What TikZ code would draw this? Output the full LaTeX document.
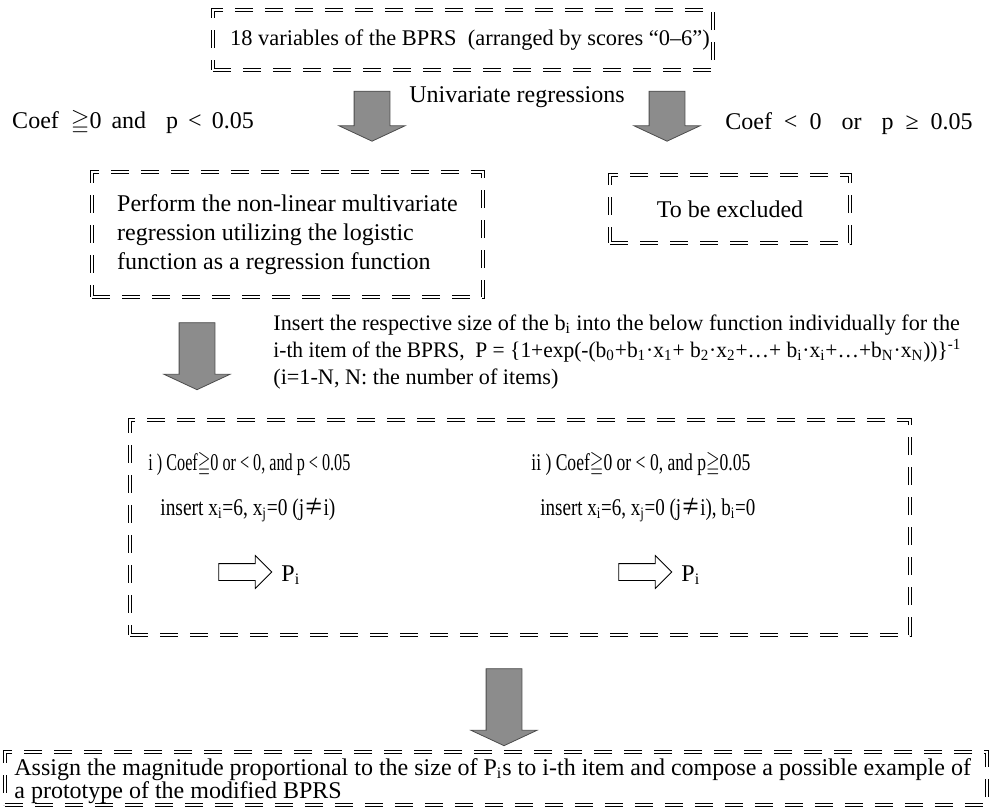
\documentclass[tikz,border=0pt]{standalone}
\usepackage{amssymb}
\usepackage{graphicx}
\usepackage{fontspec}
\setmainfont{Liberation Serif}
\newfontfamily\cjk{Noto Sans CJK JP}
\usepackage{xcolor}
\usepackage{tikz}
\usetikzlibrary{shapes.arrows}

\newcommand{\lo}[1]{\textsubscript{#1}}
\newcommand{\geqqsym}{$\geqq$}
\newcommand{\neqsym}{{\cjk ≠}}
\newcommand{\fitw}[2]{\resizebox{#1}{\height}{#2}}

\tikzset{
    dashbox/.style={
        draw,
        double,
        double distance=1.4pt,
        line width=0.45pt,
        dash pattern=on 9pt off 6pt,
        inner sep=0pt
    },
    downarrow/.style={
        single arrow,
        draw=black!70,
        fill=black!45,
        shape border rotate=270,
        inner sep=8.75pt,
        single arrow head extend=7.5pt,
        single arrow tip angle=130,
        minimum width=32.5pt
    },
    openarrow/.style={
        single arrow,
        draw,
        fill=white,
        inner sep=4pt,
        single arrow head extend=4pt,
        single arrow tip angle=90,
        minimum width=16pt,
        minimum height=26.5pt
    },
    txt/.style={
        inner sep=0pt,
        anchor=west
    }
}

\begin{document}
\begin{tikzpicture}[x=0.5pt,y=-0.5pt,font=\fontsize{12}{14.4}\selectfont]
\useasboundingbox (0,0) rectangle (989,809);

\node[
    dashbox,
    minimum width=250pt,
    minimum height=30pt,
    font=\fontsize{11.2}{13}\selectfont
] (vars) at (463,40) {\hspace*{7pt}18 variables of the BPRS\ \ (arranged by scores “0–6”)};

\node[downarrow, minimum height=25pt] (adopt) at (372,112) {};
\node[downarrow, minimum height=25pt] (drop) at (667,112) {};
\node (uni) at (517,97) {Univariate regressions};
\node (keep) at (133,122) {Coef\hspace{6pt}\geqqsym0\hspace{5pt}and\hspace{10pt}p\hspace{5pt}<\hspace{5pt}0.05};
\node (excl) at (849,124) {Coef\hspace{6pt}<\hspace{6pt}0\hspace{10pt}or\hspace{10pt}p\hspace{6pt}≥\hspace{6pt}0.05};

\node[
    dashbox,
    minimum width=195.5pt,
    minimum height=62.5pt,
    align=left
] (logit) at (287.5,234.5) {Perform the non-linear multivariate\\regression utilizing the logistic\\function as a regression function};

\node[
    dashbox,
    minimum width=120pt,
    minimum height=34pt
] (excluded) at (730,209) {To be excluded};

\node[downarrow, minimum height=33.5pt] (insert) at (197,352) {};
\node[
    txt,
    align=left,
    font=\fontsize{11.1}{13.5}\selectfont
] (func) at (273,352) {Insert the respective size of the b\lo{i} into the below function individually for the\\
\fitw{344pt}{i-th item of the BPRS,\ \ P = \{1+exp(-(b\lo{0}+b\lo{1}·x\lo{1}+ b\lo{2}·x\lo{2}+…+ b\lo{i}·x\lo{i}+…+b\lo{N}·x\lo{N}))\}\textsuperscript{-1}}\\
(i=1-N, N: the number of items)};

\node[
    dashbox,
    minimum width=390pt,
    minimum height=107.5pt
] (cases) at (520,527.5) {};
\node[txt] (caseA) at (148,464) {\fitw{101pt}{i ) Coef\geqqsym0 or < 0, and p < 0.05}};
\node[txt] (caseB) at (531,464) {\fitw{109.5pt}{ii ) Coef\geqqsym0 or < 0, and p\geqqsym0.05}};
\node[txt] (setA) at (160,510) {\fitw{87.5pt}{insert x\lo{i}=6, x\lo{j}=0 (j\neqsym i)}};
\node[txt] (setB) at (540,510) {\fitw{107.5pt}{insert x\lo{i}=6, x\lo{j}=0 (j\neqsym i), b\lo{i}=0}};
\node[openarrow] (toA) at (241,572) {};
\node[txt] (pA) at (281,575) {P\lo{i}};
\node[openarrow] (toB) at (641,572) {};
\node[txt] (pB) at (681,575) {P\lo{i}};

\node[downarrow, minimum height=38.5pt] (compose) at (504,703) {};

\node[
    dashbox,
    minimum width=491pt,
    minimum height=26.5pt
] (proto) at (496,778.5) {};
\node[
    txt,
    align=left,
    font=\fontsize{12}{11.5}\selectfont
] (protoText) at (14,781) {Assign the magnitude proportional to the size of P\lo{i}s to i-th item and compose a possible example of\\a prototype of the modified BPRS};
\end{tikzpicture}
\end{document}
